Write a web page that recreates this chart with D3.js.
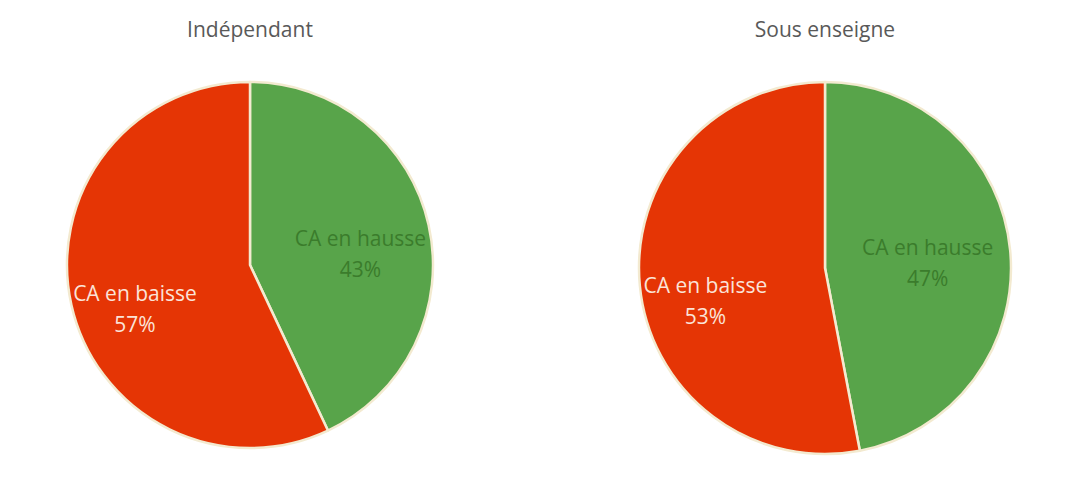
<!DOCTYPE html>
<html><head><meta charset="utf-8">
<script src="https://cdn.jsdelivr.net/npm/d3@7"></script>
<style>body{margin:0;background:#fff;}svg{display:block;}</style>
</head><body>
<svg id="c" width="1090" height="483"></svg>
<script>
const charts = ["Indépendant", "Sous enseigne"];
const categories = ["CA en hausse", "CA en baisse"];
const independant = [43, 57];
const sousEnseigne = [47, 53];
const seriesValues = [independant, sousEnseigne];

const colors = ["#58a44a", "#e53505"];
const labelColors = ["#3b7c2c", "#fbe3d8"];

const svg = d3.select("#c");
const cx = d3.scalePoint().domain(charts).range([250, 825]);
const radius = [183, 186];
const cyArr = [265, 268];
// label nudges (style), per chart, per slice
const nudges = [[[-2, 11], [-2.5, 16]], [[-14, 3], [-3, 19]]];

const pie = d3.pie().sort(null).value(d => d);
const font = "'Open Sans', 'Liberation Sans', sans-serif";

charts.forEach((name, ci) => {
  const r = radius[ci];
  const g = svg.append("g").attr("transform", `translate(${cx(name)},${cyArr[ci]})`);
  const arcs = pie(seriesValues[ci]);
  const arc = d3.arc().innerRadius(0).outerRadius(r);
  g.selectAll("path").data(arcs).join("path")
    .attr("d", arc)
    .attr("fill", (d, i) => colors[i])
    .attr("stroke", "#f3ead0")
    .attr("stroke-width", 2.5)
    .attr("stroke-linejoin", "round");
  const lab = d3.arc().innerRadius(r * 0.63).outerRadius(r * 0.63);
  arcs.forEach((d, i) => {
    const [x0, y0] = lab.centroid(d);
    const x = x0 + nudges[ci][i][0];
    const y = y0 + nudges[ci][i][1];
    const t = g.append("text")
      .attr("x", x).attr("y", y)
      .attr("text-anchor", "middle")
      .attr("font-family", font)
      .attr("font-size", 21)
      .attr("fill", labelColors[i]);
    t.append("tspan").attr("x", x).attr("dy", "-0.25em").text(categories[i]);
    t.append("tspan").attr("x", x).attr("dy", "1.5em").text(d.data + "%");
  });
  svg.append("text")
    .attr("x", cx(name)).attr("y", 37)
    .attr("text-anchor", "middle")
    .attr("font-family", font)
    .attr("font-size", 21)
    .attr("fill", "#595959")
    .text(name);
});
</script>
</body></html>
